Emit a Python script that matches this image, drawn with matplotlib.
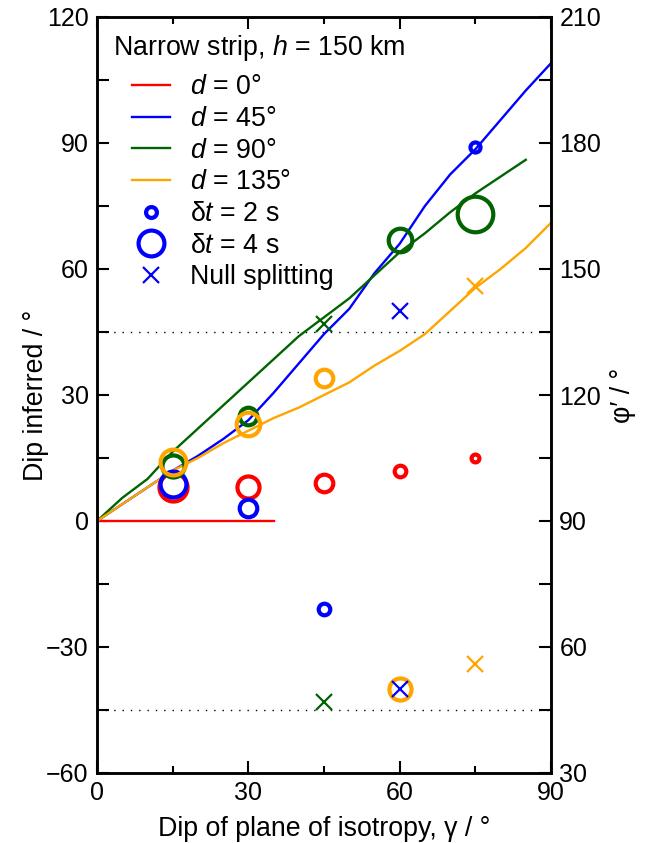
import numpy as np
import matplotlib
matplotlib.use("Agg")
import matplotlib.pyplot as plt
from matplotlib.lines import Line2D

plt.rcParams.update({
    "font.family": ["Liberation Sans", "DejaVu Sans"],
    "font.size": 19.3,
    "xtick.labelsize": 18,
    "ytick.labelsize": 18,
    "mathtext.fontset": "custom",
    "mathtext.rm": "Liberation Sans",
    "mathtext.it": "Liberation Sans:italic",
    "axes.linewidth": 1.8,
})

# ── Datos ─────────────────────────────────────────────────────────────────────
gamma_line = [0, 5, 10, 15, 20, 25, 30, 35, 40, 45, 50, 55, 60, 65, 70, 75, 80, 85, 90]
dip_d45 = [0, 4, 8, 12, 15.5, 19.5, 24, 30.5, 37.5, 44.5, 50.5, 59, 66, 75, 82.5, 88.5, 95.5, 102.5, 109]
dip_d90 = [0, 5.5, 10, 16.5, 22, 27.5, 33, 38.5, 44, 48.5, 53, 58.5, 64, 68.5, 73.5, 78, 82, 86]
dip_d135 = [0, 4, 8, 12, 15, 18.5, 21.5, 24.5, 27, 30, 33, 37, 40.5, 44.5, 50, 55.5, 60, 65, 71]
gamma_d0 = [0, 35]
dip_d0 = [0, 0]

# círculos: (γ, dip, δt)
red_g = [15, 30, 45, 60, 75]
red_dip = [8, 8, 9, 12, 15]
red_dt = [4.3, 3.5, 2.9, 2.1, 1.6]

blue_g = [15, 30, 45, 75]
blue_dip = [8.8, 3, -21, 89]
blue_dt = [4.0, 2.9, 2.1, 1.9]
blue_null_g = [60, 60]
blue_null_dip = [50, -40]

green_g = [15, 30, 60, 75]
green_dip = [13, 25, 67, 73]
green_dt = [3.5, 2.9, 3.7, 5.3]
green_null_g = [45, 45]
green_null_dip = [47, -43]

orange_g = [15, 30, 45, 60]
orange_dip = [14, 23, 34, -40]
orange_dt = [4.0, 3.7, 2.9, 3.5]
orange_null_g = [75, 75]
orange_null_dip = [56, -34]

RED, BLUE, GREEN, ORANGE = "#ff0000", "#0000ff", "#006400", "#ffa500"
MEW = 3.0


def ms(dt):
    # diámetro exterior proporcional a δt
    return 5.4 * dt - MEW


fig = plt.figure(figsize=(6.45, 8.43), dpi=100)
ax = fig.add_axes([97 / 645, 1 - 773 / 843, 454 / 645, 756 / 843])

ax.axhline(45, color="k", lw=1.0, ls=(0, (1, 5)), zorder=0)
ax.axhline(-45, color="k", lw=1.0, ls=(0, (1, 5)), zorder=0)

ax.plot(gamma_d0, dip_d0, color=RED, lw=1.7, zorder=2)
ax.plot(gamma_line, dip_d45, color=BLUE, lw=1.7, zorder=2)
ax.plot(gamma_line[:len(dip_d90)], dip_d90, color=GREEN, lw=1.7, zorder=2)
ax.plot(gamma_line, dip_d135, color=ORANGE, lw=1.7, zorder=2)

for g, y, dts, c in [(red_g, red_dip, red_dt, RED),
                     (blue_g, blue_dip, blue_dt, BLUE),
                     (green_g, green_dip, green_dt, GREEN),
                     (orange_g, orange_dip, orange_dt, ORANGE)]:
    for gi, yi, dti in zip(g, y, dts):
        ax.plot(gi, yi, "o", mfc="none", mec=c, mew=MEW, ms=ms(dti), zorder=3)

for g, y, c in [(green_null_g, green_null_dip, GREEN),
                (blue_null_g, blue_null_dip, BLUE),
                (orange_null_g, orange_null_dip, ORANGE)]:
    ax.plot(g, y, "x", color=c, ms=12, mew=1.6, ls="none", zorder=4)

ax.set_xlim(0, 90)
ax.set_ylim(-60, 120)
ax.set_xticks([0, 30, 60, 90])
ax.set_xticks([15, 45, 75], minor=True)
ax.set_yticks(np.arange(-60, 121, 30))
ax.set_yticks(np.arange(-45, 120, 30), minor=True)
ax.set_yticklabels(["\u221260", "\u221230", "0", "30", "60", "90", "120"])
ax.tick_params(which="both", direction="in", top=True, right=False, width=1.5, pad=6)
ax.tick_params(axis="x", which="major", length=8.5)
ax.tick_params(axis="x", which="minor", length=5)
ax.tick_params(axis="y", which="both", length=8.5)
ax.set_xlabel("Dip of plane of isotropy, \u03b3 / \u00b0", labelpad=8)
ax.set_ylabel("Dip inferred / \u00b0", labelpad=-2)

ax2 = ax.twinx()
ax2.set_ylim(30, 210)
ax2.set_yticks(np.arange(30, 211, 30))
ax2.set_yticks(np.arange(45, 210, 30), minor=True)
ax2.tick_params(which="both", direction="in", length=8.5, width=1.5, pad=6)
ax2.set_ylabel("\u03c6\u2032 / \u00b0", labelpad=6)

# ── Leyenda ──
ax.text(0.035, 0.959, "Narrow strip, $h$ = 150 km", transform=ax.transAxes,
        ha="left", va="center")
handles = [
    Line2D([], [], color=RED, lw=1.7),
    Line2D([], [], color=BLUE, lw=1.7),
    Line2D([], [], color=GREEN, lw=1.7),
    Line2D([], [], color=ORANGE, lw=1.7),
    Line2D([], [], ls="none", marker="o", mfc="none", mec=BLUE, mew=MEW, ms=ms(2)),
    Line2D([], [], ls="none", marker="o", mfc="none", mec=BLUE, mew=MEW, ms=ms(4)),
    Line2D([], [], ls="none", marker="x", color=BLUE, ms=12, mew=1.6),
]
labels = ["$d$ = 0\u00b0", "$d$ = 45\u00b0", "$d$ = 90\u00b0", "$d$ = 135\u00b0",
          "\u03b4$t$ = 2 s", "\u03b4$t$ = 4 s", "Null splitting"]
ax.legend(handles, labels, loc="upper left", bbox_to_anchor=(0.077, 0.924),
          frameon=False, handlelength=1.42, handletextpad=0.75, labelspacing=0.21,
          borderpad=0, borderaxespad=0)

fig.savefig("out.png", dpi=100)
